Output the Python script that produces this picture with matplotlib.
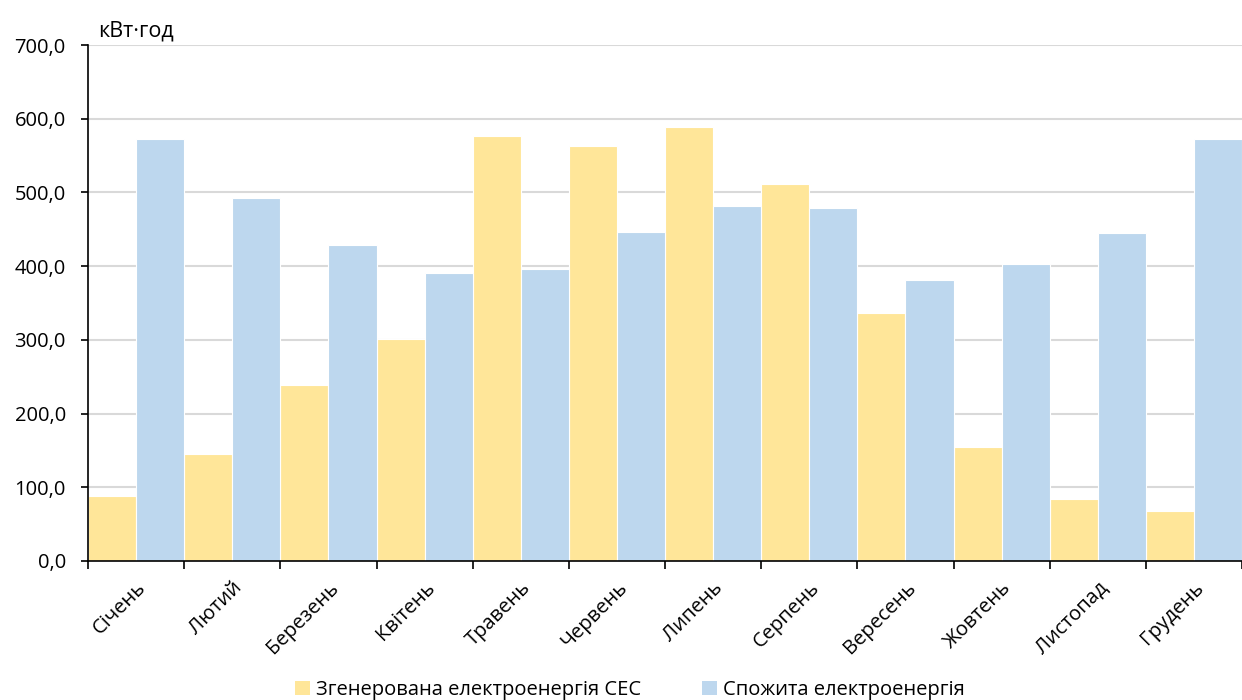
import matplotlib.pyplot as plt
import numpy as np
from matplotlib.patches import Patch

plt.rcParams['font.family'] = ['Open Sans', 'DejaVu Sans']

months = ['Січень', 'Лютий', 'Березень', 'Квітень', 'Травень', 'Червень',
          'Липень', 'Серпень', 'Вересень', 'Жовтень', 'Листопад', 'Грудень']
generated = [88, 145, 239, 301, 577, 563, 589, 511, 337, 155, 84, 68]
consumed = [573, 493, 429, 391, 396, 446, 481, 479, 381, 403, 445, 573]

gen_color = '#FFE699'
cons_color = '#BDD7EE'
fs = 14.5

fig = plt.figure(figsize=(12.42, 7), dpi=100)
ax = fig.add_axes([0.0709, 0.1986, 0.9291, 0.7371])

x = np.arange(len(months))
w = 0.5
ax.bar(x - w / 2, generated, w, color=gen_color, edgecolor='white', linewidth=0.8, zorder=2)
ax.bar(x + w / 2, consumed, w, color=cons_color, edgecolor='white', linewidth=0.8, zorder=2)

ax.set_xlim(-0.5, len(months) - 0.5)
ax.set_ylim(0, 700)
ax.set_yticks(np.arange(0, 701, 100))
ax.set_yticklabels([f'{v:.1f}'.replace('.', ',') for v in np.arange(0, 701, 100)], fontsize=fs)
ax.yaxis.grid(True, color='#D9D9D9', linewidth=1.5, zorder=0)
ax.set_axisbelow(True)

# group boundaries as major ticks, month names on minor ticks
ax.set_xticks(np.arange(-0.5, len(months)), labels=[''] * (len(months) + 1))
ax.set_xticks(x, labels=months, minor=True)
ax.tick_params(axis='x', which='major', length=5.5, width=1.2, direction='out')
ax.tick_params(axis='x', which='minor', length=0, pad=12)
for lbl in ax.get_xticklabels(minor=True):
    lbl.set_rotation(45)
    lbl.set_ha('right')
    lbl.set_va('top')
    lbl.set_rotation_mode('anchor')
    lbl.set_fontsize(fs)
ax.tick_params(axis='y', length=5, width=1.2, direction='out', pad=11)

for s in ['top', 'right']:
    ax.spines[s].set_visible(False)
for s in ['left', 'bottom']:
    ax.spines[s].set_linewidth(1.2)
    ax.spines[s].set_color('black')

ax.text(0.0085, 1.017, 'кВт·год', transform=ax.transAxes, fontsize=15.5, va='baseline', ha='left')

handles = [Patch(facecolor=gen_color, label='Згенерована електроенергія СЕС'),
           Patch(facecolor=cons_color, label='Спожита електроенергія')]
fig.legend(handles=handles, loc='lower center', bbox_to_anchor=(0.507, -0.026), ncol=2,
           frameon=False, fontsize=fs, handlelength=0.75, handleheight=0.75,
           handletextpad=0.3, columnspacing=3)

fig.savefig('out.png', dpi=100)
